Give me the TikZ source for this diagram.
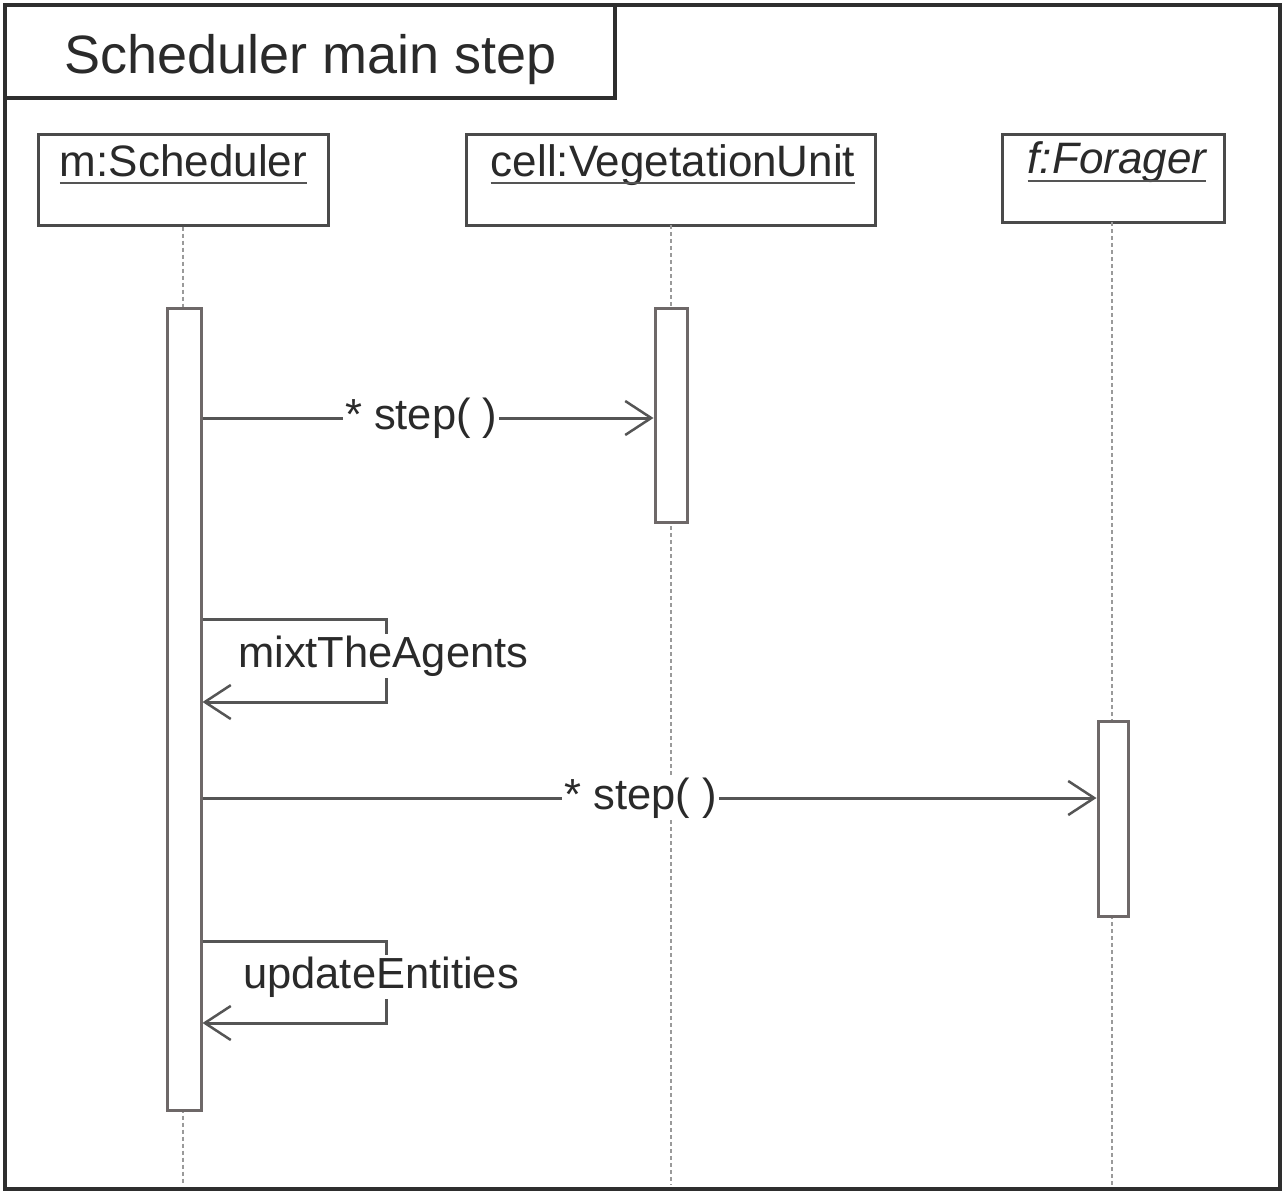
\documentclass[tikz,border=0pt]{standalone}
\usepackage{fontspec}
\setmainfont{Liberation Sans}
\usetikzlibrary{arrows.meta}
\definecolor{frameC}{HTML}{2E2E2E}
\definecolor{boxC}{HTML}{4A4A4A}
\definecolor{barC}{HTML}{6E6868}
\definecolor{lifeC}{HTML}{9A9A9A}
\definecolor{msgC}{HTML}{555555}
\definecolor{txtC}{HTML}{2A2A2A}
\begin{document}
\begin{tikzpicture}[x=1pt,y=-1pt,
  frame/.style={draw=frameC, line width=3.5pt},
  objbox/.style={draw=boxC, line width=3pt, fill=white, inner sep=0pt},
  objtxt/.style={inner sep=0pt, anchor=base, text=txtC, font=\fontsize{44}{50}\selectfont},
  uline/.style={draw=msgC, line width=2.5pt},
  lifeline/.style={draw=lifeC, line width=2.5pt, dash pattern=on 4pt off 3pt},
  actbar/.style={draw=barC, line width=3pt, fill=white, inner sep=0pt},
  msg/.style={draw=msgC, line width=3pt, -{Straight Barb[length=26pt, width=34pt, line width=2.5pt]}},
  lbl/.style={fill=white, inner sep=2pt, text=txtC, font=\fontsize{43.5}{50}\selectfont}
]
\useasboundingbox (0,0) rectangle (1288,1196);
\fill[white] (0,0) rectangle (1288,1196);

% outer frame and title box
\node[frame, inner sep=0pt, minimum width=1275pt, minimum height=1184pt] (outer) at (642.5,597) {};
\node[frame, inner sep=0pt, minimum width=610pt, minimum height=93pt] (titlebox) at (310,51.5) {};
\node[inner sep=0pt, anchor=base, text=txtC, font=\fontsize{54}{60}\selectfont] (title) at (311,74) {Scheduler main step};

% object boxes
\node[objbox, minimum width=290pt, minimum height=90pt] (ms) at (183,180) {};
\node[objbox, minimum width=409pt, minimum height=90pt] (mv) at (670.5,180) {};
\node[objbox, minimum width=222pt, minimum height=87pt] (mf) at (1113,178.5) {};

\node[objtxt] (mst) at (183.5,176) {m:Scheduler};
\node[objtxt] (mvt) at (673,176) {cell:VegetationUnit};
\node[objtxt, font=\fontsize{44}{50}\selectfont\itshape] (mft) at (1117,174) {f:Forager};
\draw[uline] ([yshift=-7pt]mst.base west) -- ([yshift=-7pt]mst.base east);
\draw[uline] ([yshift=-7pt]mvt.base west) -- ([yshift=-7pt]mvt.base east);
\draw[uline] ([yshift=-7pt]mft.base west) -- ([yshift=-7pt]mft.base east);

% lifelines
\coordinate (ends) at (183,1185);
\coordinate (endv) at (671,1185);
\coordinate (endf) at (1112,1185);
\draw[lifeline] (ms.south) -- (ends);
\draw[lifeline] (671,225) -- (endv);
\draw[lifeline] (1112,222) -- (endf);

% activation bars
\node[actbar, minimum width=34pt, minimum height=802pt] (sbar) at (184,709) {};
\node[actbar, minimum width=32pt, minimum height=214pt] (vbar) at (671,415) {};
\node[actbar, minimum width=30pt, minimum height=195pt] (fbar) at (1113,818.5) {};

% messages
\draw[msg] (sbar.east |- 0,418) -- node[lbl, pos=0.485] (l1) {* step( )} (vbar.west |- 0,418);

\draw[msg] (sbar.east |- 0,619) -- (386,619) -- (386,702) -- (sbar.east |- 0,702);
\node[lbl, anchor=west] (l2) at (236,656) {mixtTheAgents};

\draw[msg] (sbar.east |- 0,798) -- node[lbl, pos=0.49] (l3) {* step( )} (fbar.west |- 0,798);

\draw[msg] (sbar.east |- 0,941) -- (386,941) -- (386,1023) -- (sbar.east |- 0,1023);
\node[lbl, anchor=west] (l4) at (241,977) {updateEntities};
\end{tikzpicture}
\end{document}
